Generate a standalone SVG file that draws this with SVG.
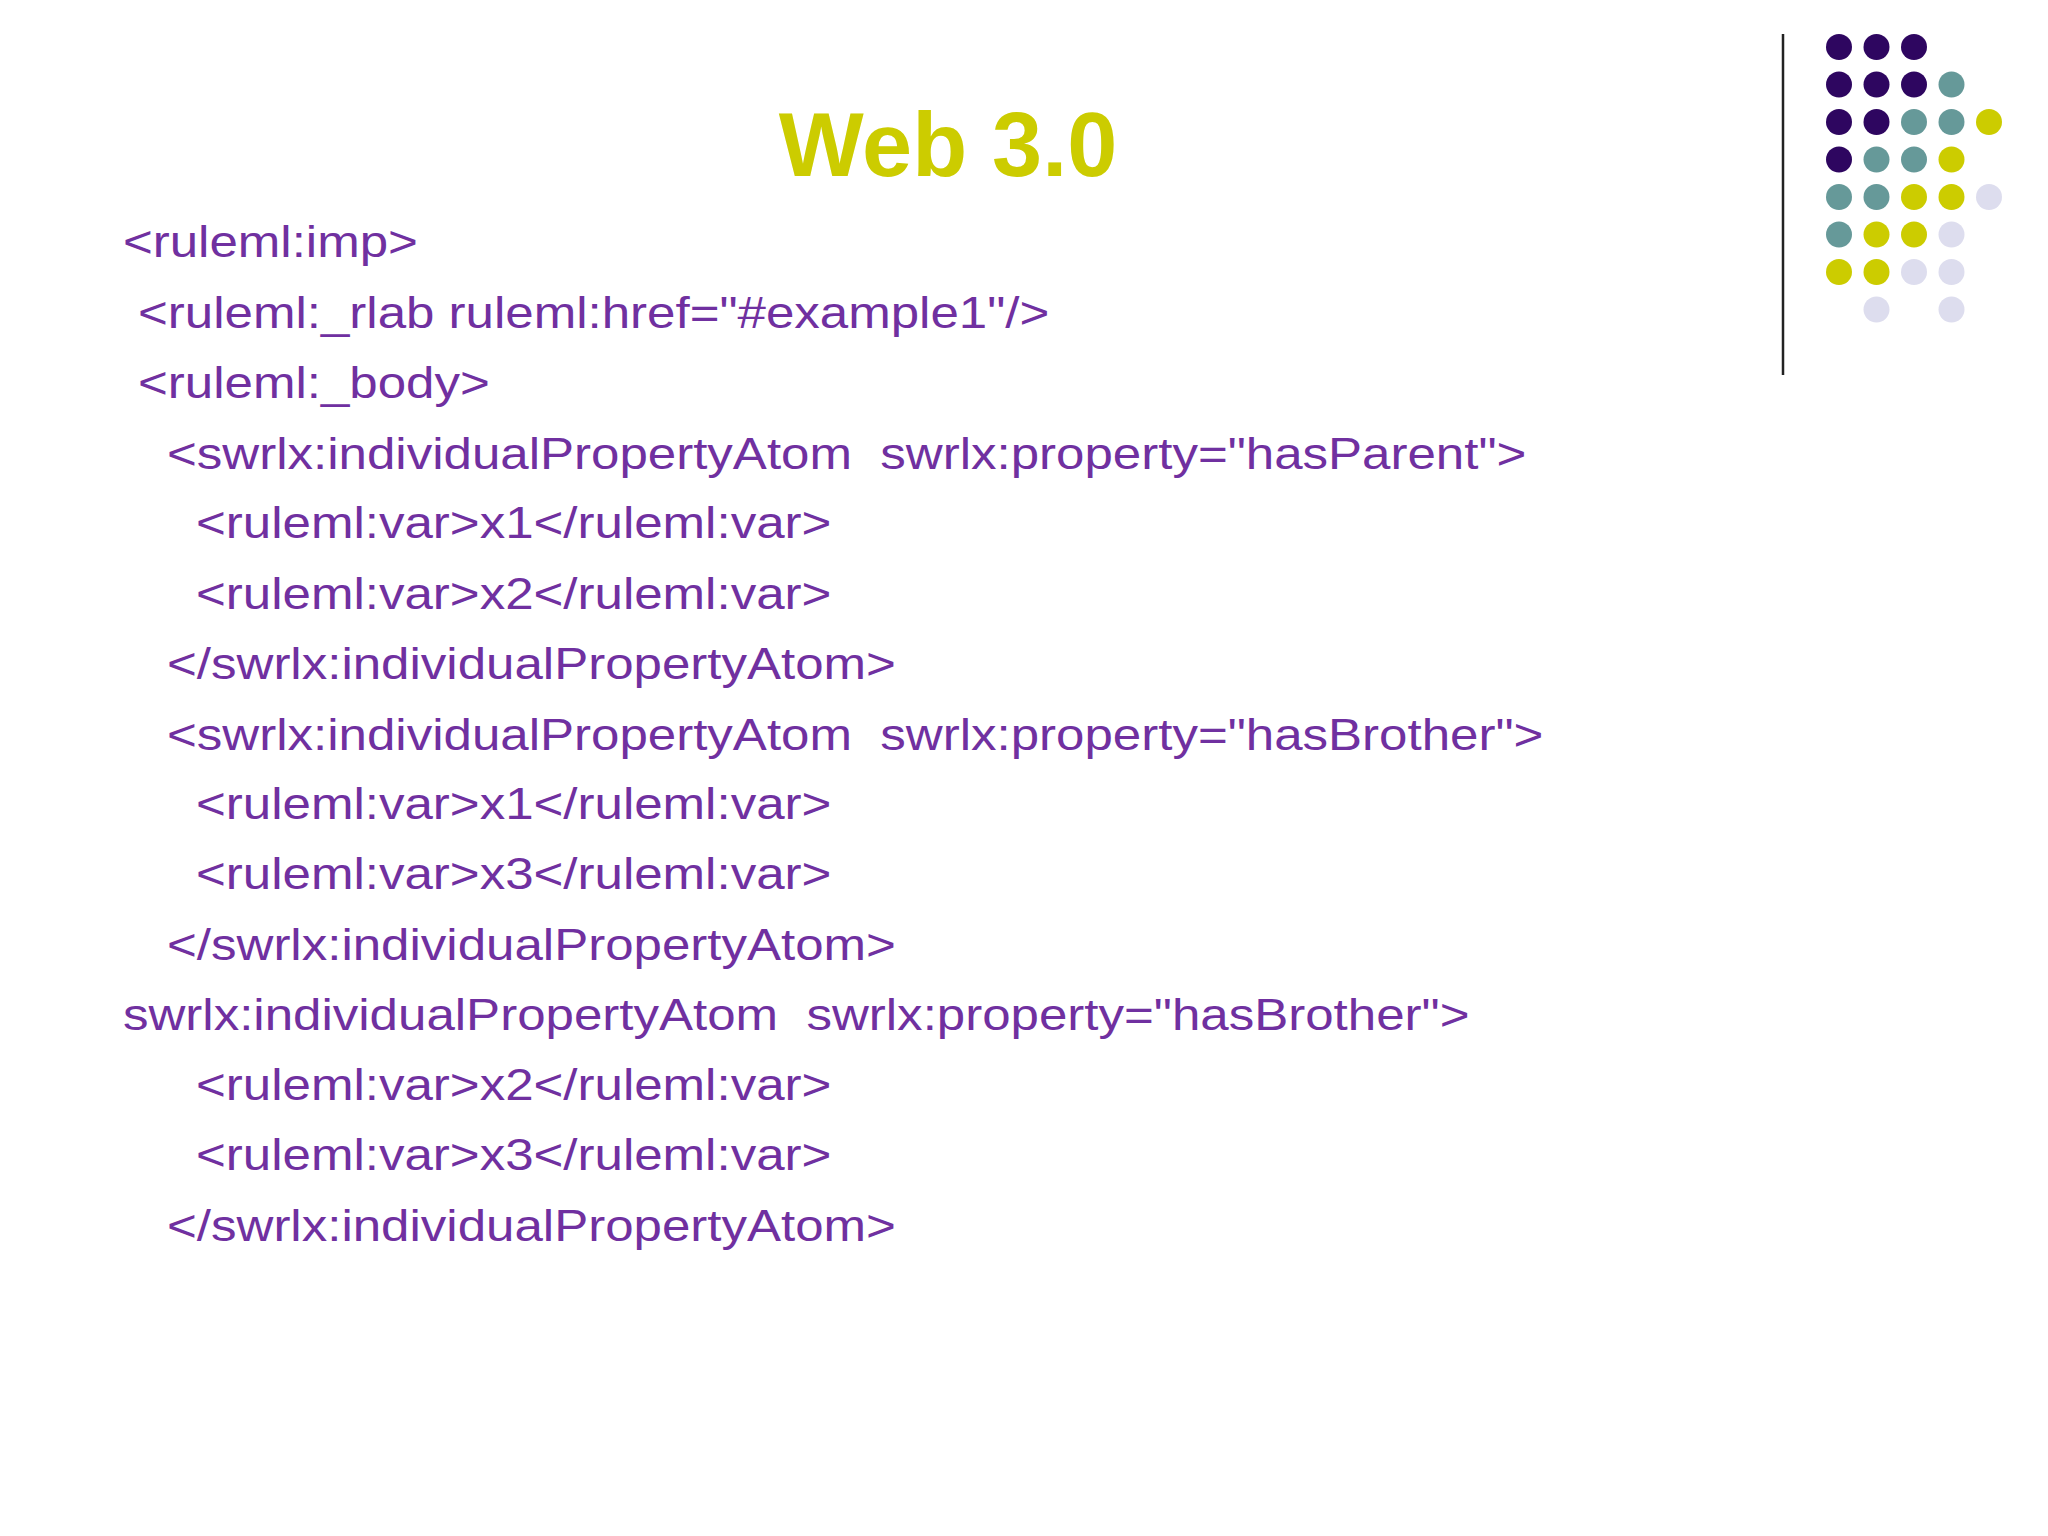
<svg xmlns="http://www.w3.org/2000/svg" width="2048" height="1536" viewBox="0 0 2048 1536">
<style>
.c{font-family:"Liberation Sans",Arial,sans-serif;font-size:44px;fill:#7030A0;white-space:pre}
.P{fill:#2E0660}.T{fill:#669999}.Y{fill:#CCCC00}.L{fill:#DDDDEE}
</style>
<rect width="2048" height="1536" fill="#fff"/>
<line x1="1783" y1="34" x2="1783" y2="375" stroke="#222" stroke-width="2.5"/>
<g id="dots">
<circle class="P" cx="1839" cy="47" r="13"/><circle class="P" cx="1876.5" cy="47" r="13"/><circle class="P" cx="1914" cy="47" r="13"/>
<circle class="P" cx="1839" cy="84.5" r="13"/><circle class="P" cx="1876.5" cy="84.5" r="13"/><circle class="P" cx="1914" cy="84.5" r="13"/><circle class="T" cx="1951.5" cy="84.5" r="13"/>
<circle class="P" cx="1839" cy="122" r="13"/><circle class="P" cx="1876.5" cy="122" r="13"/><circle class="T" cx="1914" cy="122" r="13"/><circle class="T" cx="1951.5" cy="122" r="13"/><circle class="Y" cx="1989" cy="122" r="13"/>
<circle class="P" cx="1839" cy="159.5" r="13"/><circle class="T" cx="1876.5" cy="159.5" r="13"/><circle class="T" cx="1914" cy="159.5" r="13"/><circle class="Y" cx="1951.5" cy="159.5" r="13"/>
<circle class="T" cx="1839" cy="197" r="13"/><circle class="T" cx="1876.5" cy="197" r="13"/><circle class="Y" cx="1914" cy="197" r="13"/><circle class="Y" cx="1951.5" cy="197" r="13"/><circle class="L" cx="1989" cy="197" r="13"/>
<circle class="T" cx="1839" cy="234.5" r="13"/><circle class="Y" cx="1876.5" cy="234.5" r="13"/><circle class="Y" cx="1914" cy="234.5" r="13"/><circle class="L" cx="1951.5" cy="234.5" r="13"/>
<circle class="Y" cx="1839" cy="272" r="13"/><circle class="Y" cx="1876.5" cy="272" r="13"/><circle class="L" cx="1914" cy="272" r="13"/><circle class="L" cx="1951.5" cy="272" r="13"/>
<circle class="L" cx="1876.5" cy="309.5" r="13"/><circle class="L" cx="1951.5" cy="309.5" r="13"/>
</g>
<text x="948" y="176" text-anchor="middle" font-family="Liberation Sans,Arial,sans-serif" font-weight="bold" font-size="90" fill="#CCCC00">Web 3.0</text>
<g id="code" transform="scale(1.16 1)">
<text class="c" x="106" y="257">&lt;ruleml:imp&gt;</text>
<text class="c" x="119" y="328">&lt;ruleml:_rlab ruleml:href="#example1"/&gt;</text>
<text class="c" x="119" y="398">&lt;ruleml:_body&gt;</text>
<text class="c" x="144" y="469">&lt;swrlx:individualPropertyAtom  swrlx:property="hasParent"&gt;</text>
<text class="c" x="169" y="538">&lt;ruleml:var&gt;x1&lt;/ruleml:var&gt;</text>
<text class="c" x="169" y="609">&lt;ruleml:var&gt;x2&lt;/ruleml:var&gt;</text>
<text class="c" x="144" y="679">&lt;/swrlx:individualPropertyAtom&gt;</text>
<text class="c" x="144" y="750">&lt;swrlx:individualPropertyAtom  swrlx:property="hasBrother"&gt;</text>
<text class="c" x="169" y="819">&lt;ruleml:var&gt;x1&lt;/ruleml:var&gt;</text>
<text class="c" x="169" y="889">&lt;ruleml:var&gt;x3&lt;/ruleml:var&gt;</text>
<text class="c" x="144" y="960">&lt;/swrlx:individualPropertyAtom&gt;</text>
<text class="c" x="106" y="1030">swrlx:individualPropertyAtom  swrlx:property="hasBrother"&gt;</text>
<text class="c" x="169" y="1100">&lt;ruleml:var&gt;x2&lt;/ruleml:var&gt;</text>
<text class="c" x="169" y="1170">&lt;ruleml:var&gt;x3&lt;/ruleml:var&gt;</text>
<text class="c" x="144" y="1241">&lt;/swrlx:individualPropertyAtom&gt;</text>
</g>
</svg>
